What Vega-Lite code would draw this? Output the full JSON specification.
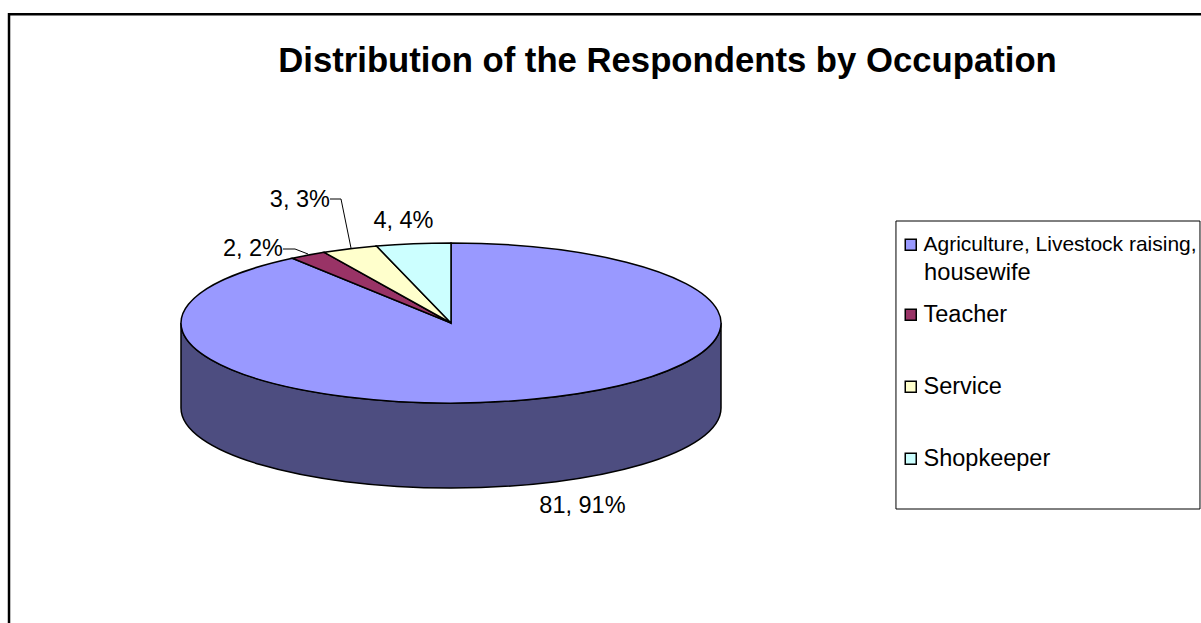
{
  "$schema": "https://vega.github.io/schema/vega-lite/v6.json",
  "width": 1201,
  "height": 623,
  "padding": 0,
  "autosize": "none",
  "background": "white",
  "view": {"stroke": null},
  "config": {"axis": {"disable": true}},
  "title": {
    "text": "Distribution of the Respondents by Occupation",
    "anchor": "middle",
    "frame": "group",
    "dx": 67,
    "offset": -80,
    "font": "Liberation Sans",
    "fontSize": 34.7,
    "fontWeight": "bold",
    "color": "black"
  },
  "data": {
    "values": [
      {"occupation": "Agriculture, Livestock raising, housewife", "count": 81, "share": 91},
      {"occupation": "Teacher", "count": 2, "share": 2},
      {"occupation": "Service", "count": 3, "share": 3},
      {"occupation": "Shopkeeper", "count": 4, "share": 4}
    ]
  },
  "transform": [
    {"window": [{"op": "sum", "field": "count", "as": "running"}], "frame": [null, 0]},
    {"joinaggregate": [{"op": "sum", "field": "count", "as": "total"}]},
    {"calculate": "2 * PI * (datum.running - datum.count) / datum.total", "as": "startAngle"},
    {"calculate": "2 * PI * datum.running / datum.total", "as": "endAngle"},
    {"calculate": "(datum.startAngle + datum.endAngle) / 2", "as": "midAngle"},
    {"calculate": "sin(datum.midAngle)", "as": "rimX"},
    {"calculate": "cos(datum.midAngle)", "as": "rimY"},
    {"calculate": "datum.count + ', ' + datum.share + '%'", "as": "label"},
    {"calculate": "'M0,0 L' + round(27000 * sin(datum.startAngle)) / 100 + ',' + round(-8000 * cos(datum.startAngle)) / 100 + ' A270,80 0 ' + (datum.endAngle - datum.startAngle > PI ? 1 : 0) + ' 1 ' + round(27000 * sin(datum.endAngle)) / 100 + ',' + round(-8000 * cos(datum.endAngle)) / 100 + ' Z'", "as": "wedge"}
  ],
  "encoding": {
    "x": {"type": "quantitative", "scale": {"domain": [-1.6704, 2.7778], "nice": false, "zero": false}},
    "y": {"type": "quantitative", "scale": {"domain": [-3.75, 4.0375], "nice": false, "zero": false}}
  },
  "layer": [
    {
      "description": "Chart frame, running off the right and bottom edges",
      "data": {"values": [{"frame": 1}]},
      "transform": [],
      "mark": {"type": "rect", "fill": null, "stroke": "black", "strokeWidth": 2.5},
      "encoding": {
        "x": {"datum": -1.637},
        "x2": {"datum": 3},
        "y": {"datum": 3.86},
        "y2": {"datum": -4}
      }
    },
    {
      "description": "Legend box",
      "data": {"values": [{"frame": 1}]},
      "transform": [],
      "mark": {"type": "rect", "fill": null, "stroke": "black", "strokeWidth": 1},
      "encoding": {
        "x": {"datum": 1.648},
        "x2": {"datum": 2.774},
        "y": {"datum": 1.275},
        "y2": {"datum": -2.325}
      }
    },
    {
      "description": "Outer wall of the disc; only the large slice faces the viewer",
      "transform": [
        {"window": [{"op": "row_number", "as": "rank"}]},
        {"filter": "datum.rank === 1"},
        {"calculate": "'M270,0 A270,80 0 0 1 -270,0 L-270,85 A270,80 0 0 0 270,85 Z'", "as": "wall"}
      ],
      "mark": {"type": "point", "filled": true, "opacity": 1, "size": 4, "fill": "#4D4D80", "stroke": "black", "strokeWidth": 1.5},
      "encoding": {
        "x": {"datum": 0},
        "y": {"datum": 0},
        "shape": {"field": "wall", "type": "nominal", "scale": null, "legend": null}
      }
    },
    {
      "description": "Top face of the disc, one wedge per occupation",
      "mark": {"type": "point", "filled": true, "opacity": 1, "size": 4, "stroke": "black", "strokeWidth": 1.5},
      "encoding": {
        "x": {"datum": 0},
        "y": {"datum": 0},
        "shape": {"field": "wedge", "type": "nominal", "scale": null, "legend": null},
        "fill": {
          "field": "occupation",
          "type": "nominal",
          "scale": {
            "domain": ["Agriculture, Livestock raising, housewife", "Teacher", "Service", "Shopkeeper"],
            "range": ["#9999FF", "#993366", "#FFFFCC", "#CCFFFF"]
          },
          "legend": {
            "title": null,
            "orient": "none",
            "legendX": 899,
            "legendY": 233,
            "padding": 0,
            "symbolType": "square",
            "symbolSize": 121,
            "symbolStrokeColor": "black",
            "symbolStrokeWidth": 1.5,
            "symbolOpacity": 1,
            "labelFont": "Liberation Sans",
            "labelFontSize": 23.5,
            "labelColor": "black",
            "labelLimit": 320,
            "labelOffset": 1,
            "rowPadding": 47,
            "labelExpr": "split(datum.label, ' housewife')[0]",
            "encode": {"labels": {"update": {"fontSize": {"signal": "datum.value === 'Agriculture, Livestock raising, housewife' ? 21 : 23.5"}}}}
          }
        }
      }
    },
    {
      "description": "Second line of the first legend entry",
      "transform": [{"filter": "indexof(datum.occupation, 'housewife') > 0"}],
      "mark": {"type": "text", "align": "left", "baseline": "middle", "font": "Liberation Sans", "fontSize": 23.7, "color": "black"},
      "encoding": {
        "x": {"datum": 1.752},
        "y": {"datum": 0.625},
        "text": {"value": "housewife"}
      }
    },
    {
      "description": "Leader lines for the two narrowest labels",
      "transform": [
        {"filter": "datum.occupation === 'Teacher' || datum.occupation === 'Service'"},
        {"calculate": "datum.occupation === 'Teacher' ? 'M-168,-74 L-156,-74 L-143,-69' : 'M-121,-124 L-110,-124 L-100,-75'", "as": "leader"}
      ],
      "mark": {"type": "point", "filled": false, "opacity": 1, "size": 4, "stroke": "black", "strokeWidth": 1},
      "encoding": {
        "x": {"datum": 0},
        "y": {"datum": 0},
        "shape": {"field": "leader", "type": "nominal", "scale": null, "legend": null}
      }
    },
    {
      "transform": [{"filter": "indexof(datum.occupation, 'Agriculture') === 0"}],
      "mark": {"type": "text", "dx": 48, "dy": 107, "baseline": "middle", "font": "Liberation Sans", "fontSize": 23.5, "color": "black"},
      "encoding": {"x": {"field": "rimX"}, "y": {"field": "rimY"}, "text": {"field": "label"}}
    },
    {
      "transform": [{"filter": "datum.occupation === 'Teacher'"}],
      "mark": {"type": "text", "dx": -55, "dy": -6, "baseline": "middle", "font": "Liberation Sans", "fontSize": 23.5, "color": "black"},
      "encoding": {"x": {"field": "rimX"}, "y": {"field": "rimY"}, "text": {"field": "label"}}
    },
    {
      "transform": [{"filter": "datum.occupation === 'Service'"}],
      "mark": {"type": "text", "dx": -50, "dy": -49, "baseline": "middle", "font": "Liberation Sans", "fontSize": 23.5, "color": "black"},
      "encoding": {"x": {"field": "rimX"}, "y": {"field": "rimY"}, "text": {"field": "label"}}
    },
    {
      "transform": [{"filter": "datum.occupation === 'Shopkeeper'"}],
      "mark": {"type": "text", "dx": -10, "dy": -23, "baseline": "middle", "font": "Liberation Sans", "fontSize": 23.5, "color": "black"},
      "encoding": {"x": {"field": "rimX"}, "y": {"field": "rimY"}, "text": {"field": "label"}}
    }
  ]
}
